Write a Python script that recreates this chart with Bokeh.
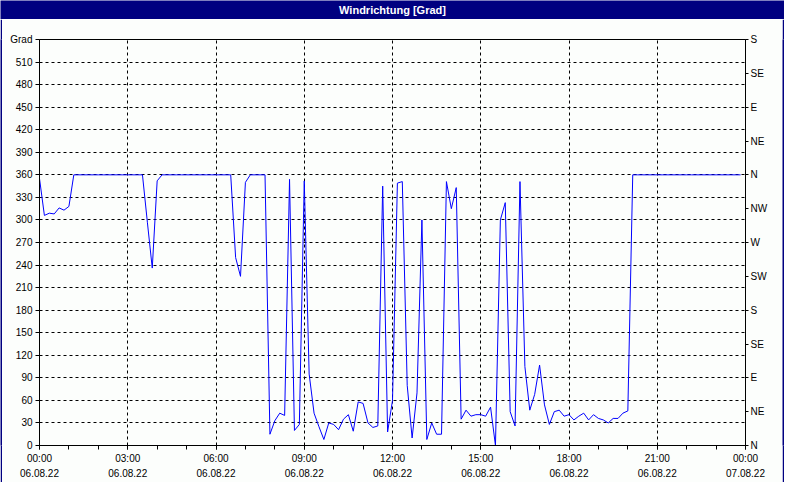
from bokeh.plotting import figure
from bokeh.models import Range1d, LinearAxis, FixedTicker
from bokeh.layouts import column, row
from bokeh.embed import file_html
from bokeh.resources import INLINE
from bokeh.core.properties import value

# ---------------- data ----------------
title_text = "Windrichtung [Grad]"

# wind direction in degrees, one value every 10 minutes from 06.08.22 00:00
direction = [
    355, 306, 309, 308, 316, 313, 318, 360, 360, 360, 360, 360,   # 00:00-01:50
    360, 360, 360, 360, 360, 360, 360, 360, 360, 360, 297, 236,   # 02:00-03:50
    352, 360, 360, 360, 360, 360, 360, 360, 360, 360, 360, 360,   # 04:00-05:50
    360, 360, 360, 360, 250, 225, 350, 360, 360, 360, 360, 15,    # 06:00-07:50
    33, 43, 40, 354, 20, 28, 352, 95, 43, 25, 8, 30,              # 08:00-09:50
    28, 21, 35, 41, 19, 58, 56, 30, 24, 26, 345, 18,              # 10:00-11:50
    60, 349, 351, 80, 10, 70, 300, 8, 30, 15, 15, 351,            # 12:00-13:50
    315, 343, 35, 47, 39, 41, 41, 39, 51, 0, 300, 323,            # 14:00-15:50
    45, 26, 351, 105, 47, 68, 107, 54, 28, 45, 47, 39,            # 16:00-17:50
    41, 34, 39, 43, 34, 41, 36, 34, 30, 36, 36, 43,               # 18:00-19:50
    46, 360, 360, 360, 360, 360, 360, 360, 360, 360, 360, 360,    # 20:00-21:50
    360, 360, 360, 360, 360, 360, 360, 360, 360, 360, 360, 360,   # 22:00-23:50
]
hours = [i / 6 for i in range(len(direction))]

time_ticks = [0, 3, 6, 9, 12, 15, 18, 21, 24]
time_labels = ["00:00\n06.08.22", "03:00\n06.08.22", "06:00\n06.08.22",
               "09:00\n06.08.22", "12:00\n06.08.22", "15:00\n06.08.22",
               "18:00\n06.08.22", "21:00\n06.08.22", "00:00\n07.08.22"]
hour_minor_ticks = list(range(0, 25))

deg_ticks = [0, 30, 60, 90, 120, 150, 180, 210, 240, 270, 300, 330, 360,
             390, 420, 450, 480, 510, 540]
deg_labels = ["0", "30", "60", "90", "120", "150", "180", "210", "240", "270",
              "300", "330", "360", "390", "420", "450", "480", "510", "Grad"]

compass_ticks = [0, 45, 90, 135, 180, 225, 270, 315, 360, 405, 450, 495, 540]
compass_labels = ["N", "NE", "E", "SE", "S", "SW", "W", "NW", "N", "NE", "E", "SE", "S"]

# ---------------- style ----------------
FONT = "Liberation Sans"
NAVY = "#000080"
BG = "#fcfefc"
W = 784
H = 484
TITLE_H = 19
EDGE = 2


def blank(width, height, color):
    f = figure(width=width, height=height, toolbar_location=None, output_backend="svg",
               x_range=Range1d(0, 1), y_range=Range1d(0, 1),
               background_fill_color=color, border_fill_color=color,
               min_border=0, outline_line_color=None)
    f.axis.visible = False
    f.grid.visible = False
    return f


# title bar
tb = blank(W, TITLE_H, NAVY)
tb.text(x=[0.5], y=[0.5], text=[title_text], text_color="white",
        text_font=value(FONT), text_font_size="11px", text_font_style="bold",
        text_align="center", text_baseline="middle")

MW = W - 2 * EDGE
MH = H - TITLE_H - EDGE

# main chart
p = figure(width=MW, height=MH, toolbar_location=None, output_backend="svg",
           x_range=Range1d(0, 24), y_range=Range1d(0, 540),
           background_fill_color=BG, border_fill_color=BG,
           min_border_left=37, min_border_right=37, min_border_top=20,
           min_border_bottom=37,
           x_axis_location=None, y_axis_location=None,
           outline_line_color="black", outline_line_width=1)
p.extra_y_ranges = {"compass": Range1d(0, 540)}


def style_axis(ax):
    ax.axis_line_color = "black"
    ax.major_tick_line_color = "black"
    ax.minor_tick_line_color = "black"
    ax.major_tick_in = 0
    ax.minor_tick_in = 0
    ax.major_label_text_font = FONT
    ax.major_label_text_font_size = "10px"
    ax.major_label_text_color = "black"


xaxis = LinearAxis(ticker=FixedTicker(ticks=time_ticks, minor_ticks=hour_minor_ticks),
                   major_label_overrides=dict(zip(time_ticks, time_labels)))
style_axis(xaxis)
xaxis.major_tick_out = 4
xaxis.minor_tick_out = 4
xaxis.major_label_standoff = 3
xaxis.major_label_text_line_height = 1.4
p.add_layout(xaxis, "below")

yaxis = LinearAxis(ticker=FixedTicker(ticks=deg_ticks, minor_ticks=[]),
                   major_label_overrides=dict(zip(deg_ticks, deg_labels)))
style_axis(yaxis)
yaxis.major_tick_out = 4
yaxis.major_label_standoff = 3
p.add_layout(yaxis, "left")

raxis = LinearAxis(y_range_name="compass",
                   ticker=FixedTicker(ticks=compass_ticks, minor_ticks=[]),
                   major_label_overrides=dict(zip(compass_ticks, compass_labels)))
style_axis(raxis)
raxis.major_tick_out = 3
raxis.major_label_standoff = 2
p.add_layout(raxis, "right")

p.xgrid.ticker = FixedTicker(ticks=[3, 6, 9, 12, 15, 18, 21])
p.ygrid.ticker = FixedTicker(ticks=deg_ticks[1:-1])
for g in (p.xgrid, p.ygrid):
    g.grid_line_color = "black"
    g.grid_line_dash = "3 3"
    g.grid_line_width = 1

p.line(hours, direction, line_color="#0000ff", line_width=1)

left_edge = blank(EDGE, MH, NAVY)
right_edge = blank(EDGE, MH, NAVY)
bottom_edge = blank(W, EDGE, NAVY)

layout = column(tb, row(left_edge, p, right_edge, spacing=0), bottom_edge, spacing=0)
open("out.html", "w").write(file_html(layout, INLINE))
